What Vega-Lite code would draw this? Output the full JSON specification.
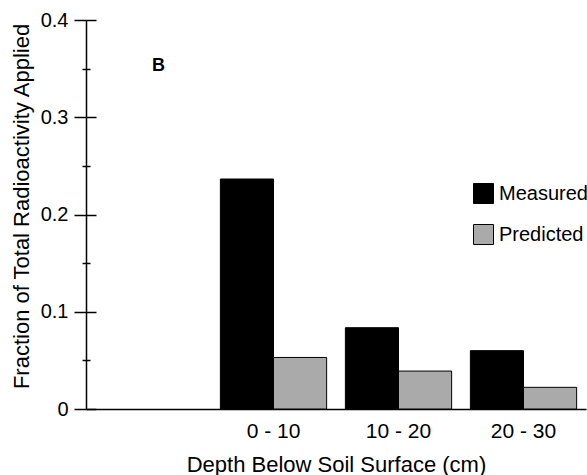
{
  "$schema": "https://vega.github.io/schema/vega-lite/v6.json",
  "width": 500,
  "height": 389,
  "autosize": {"type": "none"},
  "padding": {"left": 86, "top": 20, "right": 1, "bottom": 66},
  "background": "white",
  "config": {
    "font": "Liberation Sans",
    "view": {"stroke": null},
    "axis": {"grid": false, "domainColor": "black", "tickColor": "black", "labelColor": "black", "titleColor": "black"}
  },
  "datasets": {
    "bars": [
      {"depth": "0 - 10", "type": "Measured", "value": 0.2365},
      {"depth": "0 - 10", "type": "Predicted", "value": 0.053},
      {"depth": "10 - 20", "type": "Measured", "value": 0.0836},
      {"depth": "10 - 20", "type": "Predicted", "value": 0.039},
      {"depth": "20 - 30", "type": "Measured", "value": 0.060},
      {"depth": "20 - 30", "type": "Predicted", "value": 0.0223}
    ],
    "notes": [
      {"depth": "", "value": 0.348, "label": "B"}
    ]
  },
  "layer": [
    {
      "data": {"name": "bars"},
      "mark": {"type": "bar", "stroke": "black", "strokeWidth": 1},
      "encoding": {
        "x": {
          "field": "depth", "type": "nominal",
          "scale": {"domain": ["", "0 - 10", "10 - 20", "20 - 30"], "paddingInner": 0.15, "paddingOuter": 0.075},
          "axis": {
            "title": "Depth Below Soil Surface (cm)",
            "titleFontSize": 22, "titleFontWeight": "normal",
            "titleY": 62, "titleBaseline": "alphabetic",
            "labelFontSize": 21, "labelAngle": 0,
            "ticks": false, "tickSize": 0,
            "labelPadding": 28, "labelBaseline": "alphabetic",
            "domainWidth": 1.5
          }
        },
        "xOffset": {"field": "type", "type": "nominal", "scale": {"domain": ["Measured", "Predicted"]}},
        "y": {
          "field": "value", "type": "quantitative",
          "scale": {"domain": [0, 0.4]},
          "axis": {
            "values": [0, 0.05, 0.1, 0.15, 0.2, 0.25, 0.3, 0.35, 0.4],
            "title": "Fraction of Total Radioactivity Applied",
            "titleFontSize": 22, "titleFontWeight": "normal",
            "titleX": -58, "titleY": 186, "titleBaseline": "alphabetic", "titleAlign": "center",
            "labelFontSize": 20, "labelPadding": 6,
            "labelExpr": "round(datum.value*100) % 10 == 0 ? (datum.value == 0 ? '0' : format(datum.value, '.1f')) : ''",
            "tickSize": {"condition": {"test": "round(datum.value*100) % 10 != 0", "value": 4}, "value": 12},
            "tickWidth": 1.5,
            "domainWidth": 1.5
          }
        },
        "color": {
          "field": "type", "type": "nominal",
          "scale": {"domain": ["Measured", "Predicted"], "range": ["#000000", "#aaaaaa"]},
          "legend": {
            "title": null, "orient": "none", "legendX": 387, "legendY": 163, "padding": 0,
            "symbolType": "square", "symbolSize": 400,
            "symbolStrokeColor": "black", "symbolStrokeWidth": 1, "symbolOpacity": 1,
            "labelFontSize": 20, "labelOffset": 5, "rowPadding": 16, "labelColor": "black"
          }
        }
      }
    },
    {
      "data": {"name": "notes"},
      "mark": {"type": "text", "fontSize": 18, "fontWeight": "bold", "baseline": "alphabetic", "dx": 10, "color": "black"},
      "encoding": {
        "x": {"field": "depth", "type": "nominal"},
        "y": {
          "field": "value", "type": "quantitative",
          "scale": {"domain": [0, 0.4]},
          "axis": {
            "orient": "left",
            "values": [0, 0.05, 0.1, 0.15, 0.2, 0.25, 0.3, 0.35, 0.4],
            "labels": false, "domain": false, "title": null,
            "tickWidth": 1.5,
            "tickSize": {"condition": {"test": "round(datum.value*100) % 10 != 0", "value": -4}, "value": -10}
          }
        },
        "text": {"field": "label"}
      }
    }
  ],
  "resolve": {"scale": {"y": "independent"}}
}
